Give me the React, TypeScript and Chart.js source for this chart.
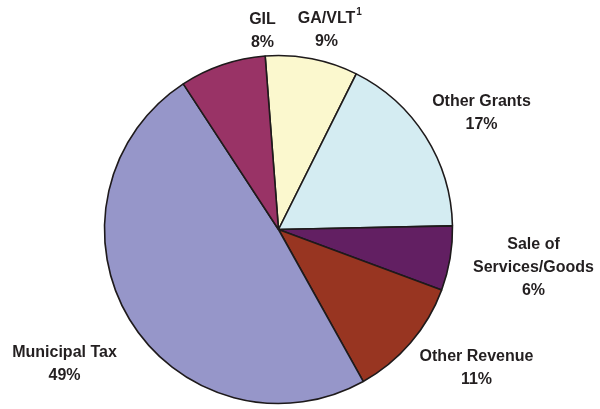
import React, { useEffect, useRef } from "react";
import { Chart, registerables } from "chart.js";

Chart.register(...registerables);

const categories = ["GA/VLT", "Other Grants", "Sale of Services/Goods", "Other Revenue", "Municipal Tax", "GIL"];
const labelLines = [["GA/VLT"], ["Other Grants"], ["Sale of", "Services/Goods"], ["Other Revenue"], ["Municipal Tax"], ["GIL"]];
const superscripts = ["1", "", "", "", "", ""];
const values = [8.6, 17.3, 6.0, 11.25, 48.9, 8.0];
const percentLabels = ["9%", "17%", "6%", "11%", "49%", "8%"];
const colors = ["#FBF8CE", "#D4ECF2", "#621F62", "#983521", "#9696C9", "#993366"];

// label layout (text placement relative to pie centre, px)
const labelOffsets = [
  [48, -211],
  [203, -128],
  [255, 15],
  [198, 127],
  [-214, 123],
  [-16, -210],
];
const LINE_H = 23;

const labelPlugin = {
  id: "sliceLabels",
  afterDatasetsDraw(chart: any) {
    const ctx = chart.ctx;
    const arc = chart.getDatasetMeta(0).data[0];
    if (!arc) return;
    const cx = arc.x;
    const cy = arc.y;
    ctx.save();
    ctx.fillStyle = "#231F20";
    ctx.textAlign = "center";
    ctx.textBaseline = "middle";
    labelLines.forEach((lines, i) => {
      const [dx, dy] = labelOffsets[i];
      const x = cx + dx;
      let y = cy + dy;
      const all = [...lines, percentLabels[i]];
      all.forEach((t, j) => {
        ctx.font = "bold 16px 'Liberation Sans', Arial, sans-serif";
        ctx.fillText(t, x, y + j * LINE_H);
        if (j === 0 && superscripts[i]) {
          const w = ctx.measureText(t).width;
          ctx.font = "bold 10px 'Liberation Sans', Arial, sans-serif";
          ctx.textAlign = "left";
          ctx.fillText(superscripts[i], x + w / 2 + 1, y - 6);
          ctx.textAlign = "center";
        }
      });
    });
    ctx.restore();
  },
};

export default function App() {
  const ref = useRef<HTMLCanvasElement>(null);
  useEffect(() => {
    if (!ref.current) return;
    const chart = new Chart(ref.current, {
      type: "pie",
      data: {
        labels: categories,
        datasets: [
          {
            data: values,
            backgroundColor: colors,
            borderColor: "#1E1A1B",
            borderWidth: 1.6,
          },
        ],
      },
      options: {
        responsive: false,
        animation: false,
        rotation: -4.4,
        radius: 174,
        layout: { padding: { left: 0, right: 43, top: 50, bottom: 0 } },
        plugins: {
          legend: { display: false },
          tooltip: { enabled: false },
        },
      },
      plugins: [labelPlugin],
    });
    return () => chart.destroy();
  }, []);
  return (
    <div style={{ position: "fixed", left: 0, top: 0, width: 600, height: 409, background: "#fff" }}>
      <canvas ref={ref} width={600} height={409} style={{ display: "block", width: 600, height: 409 }} />
    </div>
  );
}
